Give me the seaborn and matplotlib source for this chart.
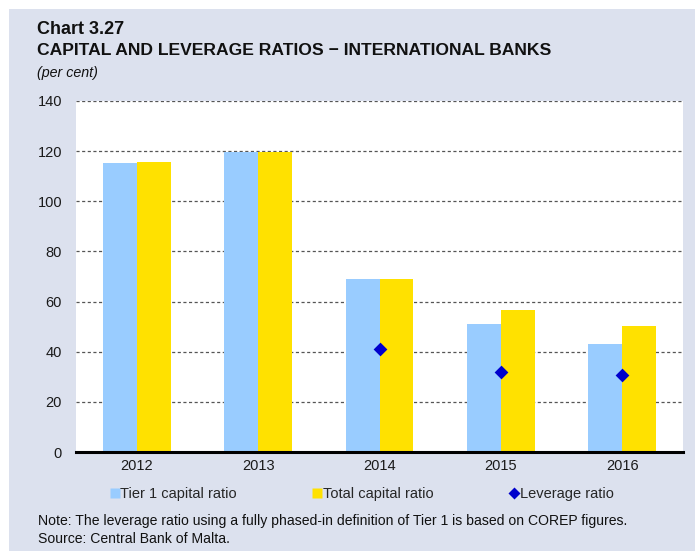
import matplotlib
matplotlib.use("Agg")
import matplotlib.pyplot as plt
import numpy as np
import pandas as pd
import seaborn as sns
from matplotlib.patches import Rectangle
from matplotlib.lines import Line2D

# data
years = ["2012", "2013", "2014", "2015", "2016"]
tier1_ratio = [115.3, 119.6, 69.2, 50.9, 42.9]
total_ratio = [115.7, 119.7, 69.2, 56.5, 50.1]
leverage_ratio = [np.nan, np.nan, 41.0, 32.0, 30.6]
series_names = ["Tier 1 capital ratio", "Total capital ratio"]
ytick_values = [0, 20, 40, 60, 80, 100, 120, 140]

bg = "#DCE1EE"
col_tier1 = "#99CCFF"
col_total = "#FFE100"
col_lev = "#0000CC"

sns.set_style("white")
plt.rcParams["font.family"] = ["Liberation Sans", "DejaVu Sans"]

df = pd.DataFrame({
    "year": years * 2,
    "value": tier1_ratio + total_ratio,
    "series": [series_names[0]] * len(years) + [series_names[1]] * len(years),
})
lev_df = pd.DataFrame({"year": years, "value": leverage_ratio})

W, H = 695, 551
fig = plt.figure(figsize=(W / 100, H / 100), dpi=100)
fig.patch.set_facecolor("white")
fig.patches.append(Rectangle((9 / W, 0), 1 - 9 / W, (H - 9) / H,
                             transform=fig.transFigure, facecolor=bg,
                             edgecolor="none", zorder=-5))

ax = fig.add_axes([76 / W, 1 - 452 / H, (683 - 76) / W, (452 - 101) / H])
ax.set_zorder(2)
ax.set_facecolor("white")

sns.barplot(data=df, x="year", y="value", hue="series", order=years,
            hue_order=series_names, palette=[col_tier1, col_total],
            width=0.56, gap=0, saturation=1, edgecolor="none",
            legend=False, ax=ax, zorder=2)
sns.stripplot(data=lev_df, x="year", y="value", order=years, jitter=False,
              marker="D", color=col_lev, size=7, linewidth=0,
              ax=ax, zorder=4)

ax.set_ylim(0, 140)
ax.set_xlim(-0.5, 4.5)
ax.set_yticks(ytick_values)
ax.yaxis.grid(True, linestyle=(0, (2.5, 2)), color="#555555", linewidth=0.9)
ax.set_axisbelow(True)
ax.tick_params(axis="y", length=0, pad=10, labelsize=10.5, colors="#1a1a1a")
ax.tick_params(axis="x", length=0, pad=5, labelsize=10.5, colors="#1a1a1a")
ax.set_xlabel("")
ax.set_ylabel("")
for side in ["left", "right", "top"]:
    ax.spines[side].set_visible(False)
ax.spines["bottom"].set_color("black")
ax.spines["bottom"].set_linewidth(2.2)
ax.spines["bottom"].set_zorder(5)

# legend
handles = [
    Line2D([], [], marker="s", linestyle="none", markersize=7,
           markerfacecolor=col_tier1, markeredgecolor="none"),
    Line2D([], [], marker="s", linestyle="none", markersize=7,
           markerfacecolor=col_total, markeredgecolor="none"),
    Line2D([], [], marker="D", linestyle="none", markersize=6,
           markerfacecolor=col_lev, markeredgecolor="none"),
]
fig.legend(handles, series_names + ["Leverage ratio"], loc="center",
           bbox_to_anchor=(362 / W, 1 - 494 / H), ncol=3, frameon=False,
           handlelength=0.6, handletextpad=0.1, columnspacing=5.2,
           fontsize=10.5)

# titles and notes
fig.text(37 / W, 1 - 21 / H, "Chart 3.27", fontsize=13, fontweight="bold",
         va="top", ha="left", color="#111111")
fig.text(37 / W, 1 - 43 / H, "CAPITAL AND LEVERAGE RATIOS \u2212 INTERNATIONAL BANKS",
         fontsize=12.6, fontweight="bold", va="top",
         ha="left", color="#111111")
fig.text(37 / W, 1 - 66 / H, "(per cent)", fontsize=10.3, style="italic",
         va="top", ha="left", color="#111111")
fig.text(38 / W, 1 - 514 / H,
         "Note: The leverage ratio using a fully phased-in definition of Tier 1 is based on COREP figures.",
         fontsize=10.1, va="top", ha="left", color="#111111")
fig.text(38 / W, 1 - 532 / H, "Source: Central Bank of Malta.",
         fontsize=10.1, va="top", ha="left", color="#111111")

fig.savefig("out.png", dpi=100, facecolor=fig.get_facecolor())
